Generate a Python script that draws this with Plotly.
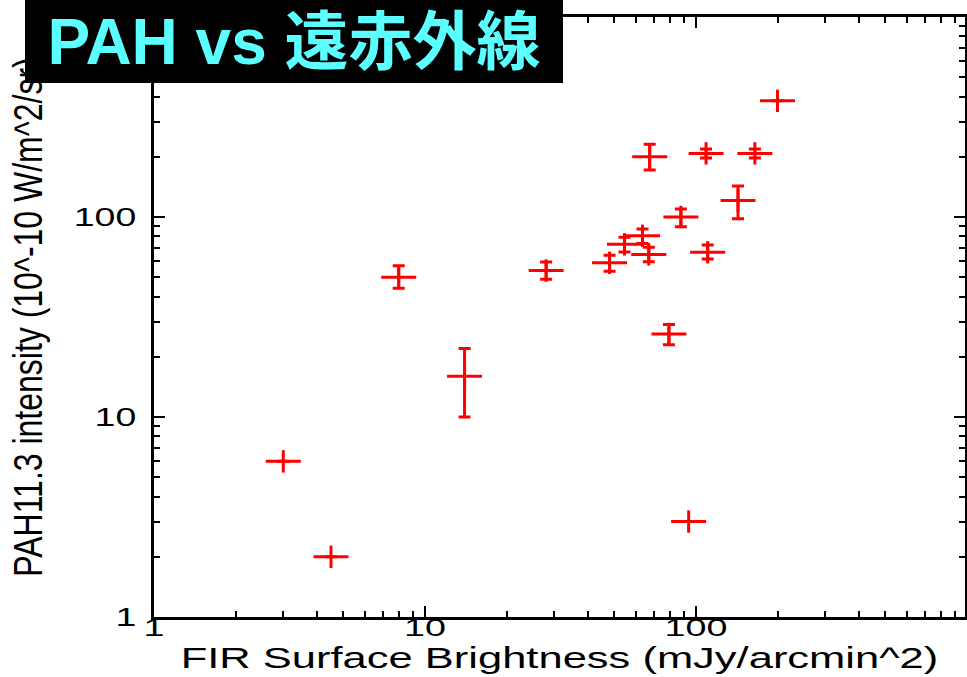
import plotly.graph_objects as go

# ---- data ----
fir = [3.0, 4.5, 8.0, 14.0, 28, 48, 54.5, 63.5, 67, 67.5, 79.5, 88, 94, 109, 110.5, 143, 165, 200]
pah = [6.0, 2.0, 50, 16, 54, 59, 73, 80.5, 65, 200, 26, 100, 3.0, 208, 66.6, 121, 208, 381]
err_up = [0, 0, 7, 6, 5.6, 5.3, 6.1, 6.6, 5.5, 31, 3, 9.6, 0, 11, 5.8, 22, 11, 0]
err_dn = [0, 0, 6, 6, 5.2, 5.4, 6.2, 6.7, 5.3, 28, 3, 10.6, 0, 11, 5.0, 23, 11, 0]

x_tickvals = [1, 10, 100]
x_ticktext = ["1", "10", "100"]
y_tickvals = [1, 10, 100]
y_ticktext = ["1", "10", "100"]
minor_vals = [2, 3, 4, 5, 6, 7, 8, 9, 20, 30, 40, 50, 60, 70, 80, 90,
              200, 300, 400, 500, 600, 700, 800, 900]

title_text = "PAH vs 遠赤外線"
x_title = "FIR Surface Brightness (mJy/arcmin^2)"
y_title = "PAH11.3 intensity (10^-10 W/m^2/sr)"

RED = "#FF0000"
FONT = "Liberation Sans, Arial, sans-serif"
X_RANGE = [0, 2.993]
Y_RANGE = [0, 3]

fig = go.Figure()

fig.add_trace(go.Scatter(
    x=fir, y=pah, mode="markers",
    marker=dict(symbol="line-ew", size=25, color=RED,
                line=dict(color=RED, width=3)),
    error_y=dict(type="data", symmetric=False, array=err_up, arrayminus=err_dn,
                 color=RED, thickness=3, width=6),
    showlegend=False, hoverinfo="x+y",
))
fig.add_trace(go.Scatter(
    x=fir, y=pah, mode="markers",
    marker=dict(symbol="line-ns", size=16, color=RED,
                line=dict(color=RED, width=3)),
    showlegend=False, hoverinfo="skip",
))
# invisible trace so the mirrored tick axes (top / right) are drawn
fig.add_trace(go.Scatter(
    x=fir[:1], y=pah[:1], mode="markers", xaxis="x2", yaxis="y2",
    marker=dict(opacity=0), showlegend=False, hoverinfo="skip",
))

tick_common = dict(
    type="log",
    ticks="inside", ticklen=11, tickwidth=2, tickcolor="black",
    showgrid=False, zeroline=False,
    minor=dict(ticks="inside", ticklen=6, tickwidth=2, tickcolor="black",
               tickvals=minor_vals, showgrid=False),
)

fig.update_layout(
    xaxis=dict(
        **tick_common,
        showline=True, linecolor="black", linewidth=2.5, mirror=True,
        range=X_RANGE,
        tickvals=x_tickvals, ticktext=x_ticktext,
        tickfont=dict(family=FONT, size=23, color="black"),
        ticklabelstandoff=-11,
        title=dict(text=x_title, font=dict(family=FONT, size=30, color="black"),
                   standoff=6),
    ),
    yaxis=dict(
        **tick_common,
        showline=True, linecolor="black", linewidth=2.5, mirror=True,
        range=Y_RANGE,
        tickvals=y_tickvals, ticktext=y_ticktext,
        tickfont=dict(family=FONT, size=25, color="black"),
        ticklabelstandoff=10,
        title=dict(text=y_title, font=dict(family=FONT, size=32, color="black"),
                   standoff=46),
    ),
    xaxis2=dict(
        **tick_common,
        overlaying="x", side="top", anchor="y2",
        range=X_RANGE, tickvals=x_tickvals, showticklabels=False, showline=False,
    ),
    yaxis2=dict(
        **tick_common,
        overlaying="y", side="right", anchor="x2",
        range=Y_RANGE, tickvals=y_tickvals, showticklabels=False, showline=False,
    ),
)

fig.add_annotation(
    xref="paper", yref="paper",
    x=(294 - 154) / 811, y=(617 - 41.5) / 600,
    xanchor="center", yanchor="middle",
    width=538, height=83, borderpad=0, borderwidth=0,
    bgcolor="black", showarrow=False,
    text=title_text,
    font=dict(family="Liberation Sans, Noto Sans CJK JP, sans-serif",
              size=64, color="#5CFFFF", weight="bold"),
    align="center", valign="middle",
)

fig.update_layout(
    width=967, height=677,
    margin=dict(l=154, r=2, t=17, b=60, autoexpand=False),
    paper_bgcolor="white", plot_bgcolor="white",
    showlegend=False,
)

post = """
var gd = document.getElementById('{plot_id}');
function st(sel, s, mode) {
  var els = gd.querySelectorAll(sel);
  for (var i = 0; i < els.length; i++) {
    var t = els[i];
    try {
      var b = t.getBBox();
      var tr = t.getAttribute('transform') || '';
      var a;
      if (mode === 'y') {
        var cy = b.y + b.height / 2;
        a = ' translate(0,' + cy + ') scale(1,' + s + ') translate(0,' + (-cy) + ')';
      } else {
        var cx = (mode === 'end') ? (b.x + b.width) : (b.x + b.width / 2);
        a = ' translate(' + cx + ',0) scale(' + s + ',1) translate(' + (-cx) + ',0)';
      }
      t.setAttribute('transform', tr + a);
    } catch (e) {}
  }
}
st('.xtick text', 1.64, 'mid');
st('.ytick text', 1.5, 'end');
st('.g-xtitle text', 1.45, 'mid');
st('.g-ytitle text', 1.27, 'y');
"""

fig.write_html("out.html", post_script=post)
